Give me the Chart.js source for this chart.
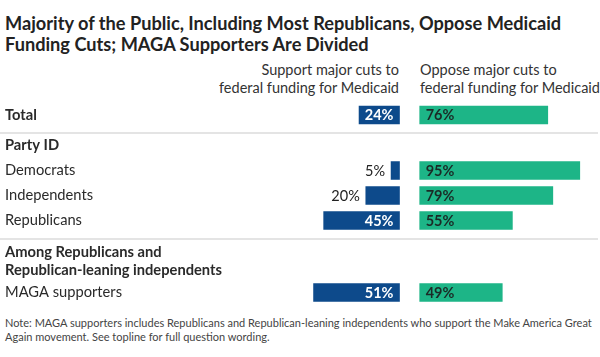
<!DOCTYPE html>
<html><head><meta charset="utf-8">
<script src="https://cdn.jsdelivr.net/npm/chart.js@4.4.1/dist/chart.umd.min.js"></script>
<style>
html,body{margin:0;padding:0;background:#fff;}
body{width:600px;height:357px;position:relative;overflow:hidden;font-family:Lato,sans-serif;color:#333;}
#title{position:absolute;left:5px;top:13px;font-weight:700;font-size:18.2px;line-height:21px;color:#222;width:595px;}
.hdr{position:absolute;top:61px;font-size:14.5px;line-height:18px;color:#333;white-space:nowrap;}
#hdrL{right:201px;text-align:right;}
#hdrR{left:420px;}
.sep{position:absolute;left:0;width:598px;height:2px;background:#e4e4e4;}
canvas{position:absolute;left:0;}
#note{position:absolute;left:5px;top:316px;font-size:11px;line-height:14px;color:#444;width:595px;}
</style></head>
<body>
<div id="title">Majority of the Public, Including Most Republicans, Oppose Medicaid<br>Funding Cuts; MAGA Supporters Are Divided</div>
<div class="hdr" id="hdrL">Support major cuts to<br>federal funding for Medicaid</div>
<div class="hdr" id="hdrR">Oppose major cuts to<br>federal funding for Medicaid</div>
<canvas id="c1" width="600" height="26" style="top:102px"></canvas>
<div class="sep" style="top:132px"></div>
<canvas id="c2" width="600" height="100" style="top:133px"></canvas>
<div class="sep" style="top:238px"></div>
<canvas id="c3" width="600" height="62" style="top:246px"></canvas>
<div id="note">Note: MAGA supporters includes Republicans and Republican-leaning independents who support the Make America Great<br>Again movement. See topline for full question wording.</div>
<script>
// ---- data ----
const totalLabels = ['Total'];
const totalSupport = [24];
const totalOppose = [76];

const partyHeader = 'Party ID';
const partyLabels = ['Democrats', 'Independents', 'Republicans'];
const partySupport = [5, 20, 45];
const partyOppose = [95, 79, 55];

const magaHeader = ['Among Republicans and', 'Republican-leaning independents'];
const magaLabels = ['MAGA supporters'];
const magaSupport = [51];
const magaOppose = [49];

// ---- style ----
const BLUE = '#0d4a8b';
const GREEN = '#1db587';
const FONT = 'Lato';

const valueLabels = {
  id: 'valueLabels',
  afterDatasetsDraw(chart) {
    const ctx = chart.ctx;
    chart.data.datasets.forEach((ds, di) => {
      const meta = chart.getDatasetMeta(di);
      meta.data.forEach((bar, i) => {
        const v = ds.data[i];
        if (v === null || v === undefined) return;
        const text = v + '%';
        const left = Math.min(bar.x, bar.base), right = Math.max(bar.x, bar.base);
        ctx.save();
        ctx.textBaseline = 'middle';
        if (di === 0) {
          ctx.font = '700 14.5px ' + FONT;
          const w = ctx.measureText(text).width;
          if (right - left >= w + 8) {
            ctx.fillStyle = '#ffffff';
            ctx.textAlign = 'right';
            ctx.fillText(text, right - 6, bar.y + 0.5);
          } else {
            ctx.font = '400 14.5px ' + FONT;
            ctx.fillStyle = '#222';
            ctx.textAlign = 'right';
            ctx.fillText(text, left - 6, bar.y + 0.5);
          }
        } else {
          ctx.font = '700 14.5px ' + FONT;
          ctx.fillStyle = '#1b2a26';
          ctx.textAlign = 'left';
          ctx.fillText(text, left + 6, bar.y + 0.5);
        }
        ctx.restore();
      });
    });
  }
};

function hiddenX(reverse, max) {
  return {
    type: 'linear', position: 'bottom', stack: 'cols', stackWeight: max + 6,
    reverse: reverse, min: -6, max: max,
    grid: { display: false, drawTicks: false },
    border: { display: false },
    ticks: { display: false }
  };
}

function makeChart(id, labels, support, oppose, boldRows) {
  return new Chart(document.getElementById(id), {
    type: 'bar',
    data: {
      labels: labels,
      datasets: [
        { label: 'Support major cuts', data: support, xAxisID: 'xs', backgroundColor: BLUE, grouped: false, barThickness: 18 },
        { label: 'Oppose major cuts', data: oppose, xAxisID: 'xo', backgroundColor: GREEN, grouped: false, barThickness: 18 }
      ]
    },
    options: {
      indexAxis: 'y', responsive: false, animation: false,
      layout: { padding: { left: 5, right: 0, top: 0, bottom: 0 } },
      plugins: { legend: { display: false }, tooltip: { enabled: false } },
      scales: {
        y: {
          position: 'left',
          grid: { display: false, drawTicks: false },
          border: { display: false },
          ticks: {
            crossAlign: 'far', padding: 0, autoSkip: false, color: '#2a2a2a',
            font: (c) => ({ family: FONT, size: 14.7, lineHeight: 1.2, weight: boldRows.includes(c.index) ? '700' : '400' })
          },
          afterFit: (s) => { s.width = 226; s.paddingTop = 0; s.paddingBottom = 0; }
        },
        xs: hiddenX(true, 100),
        xo: hiddenX(false, 107)
      }
    },
    plugins: [valueLabels]
  });
}

makeChart('c1', totalLabels, totalSupport, totalOppose, [0]);
makeChart('c2', [partyHeader, ...partyLabels], [null, ...partySupport], [null, ...partyOppose], [0]);
makeChart('c3', [magaHeader, ...magaLabels], [null, ...magaSupport], [null, ...magaOppose], [0]);
</script>
</body></html>
